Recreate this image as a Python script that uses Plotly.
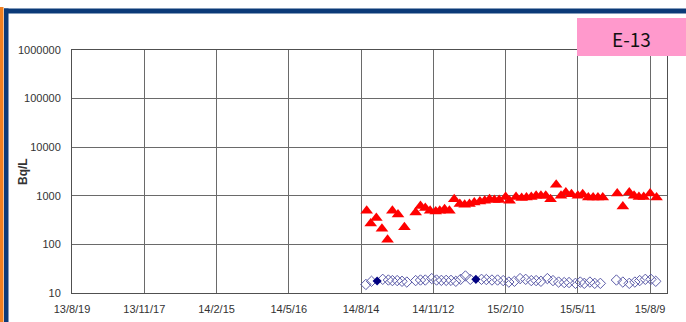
import plotly.graph_objects as go

# Sampling dates and activity (Bq/L) for the two series
red_dates = [
    "2014-08-21", "2014-08-26", "2014-09-02", "2014-09-09", "2014-09-16", "2014-09-22",
    "2014-09-29", "2014-10-07", "2014-10-21", "2014-10-27", "2014-11-02", "2014-11-08",
    "2014-11-15", "2014-11-20", "2014-11-26", "2014-12-02", "2014-12-08", "2014-12-15",
    "2014-12-21", "2014-12-27", "2015-01-02", "2015-01-09", "2015-01-15", "2015-01-21",
    "2015-01-27", "2015-02-02", "2015-02-10", "2015-02-15", "2015-02-23", "2015-03-02",
    "2015-03-08", "2015-03-14", "2015-03-20", "2015-03-26", "2015-04-01", "2015-04-07",
    "2015-04-14", "2015-04-20", "2015-04-26", "2015-05-03", "2015-05-11", "2015-05-17",
    "2015-05-24", "2015-05-30", "2015-06-05", "2015-06-11", "2015-06-29", "2015-07-06",
    "2015-07-14", "2015-07-20", "2015-07-26", "2015-08-01", "2015-08-09", "2015-08-17",
]
red_values = [
    490, 270, 350, 210, 125, 490,
    410, 225, 455, 620, 560, 490,
    475, 490, 530, 490, 850, 675,
    655, 675, 730, 760, 790, 850,
    815, 815, 950, 790, 950, 900,
    920, 950, 1000, 1000, 1000, 850,
    1680, 1000, 1170, 1080, 1000, 1080,
    920, 920, 920, 920, 1110, 600,
    1170, 1000, 950, 950, 1110, 920,
]

blue_dates = [
    "2014-08-20", "2014-08-27", "2014-09-10", "2014-09-17", "2014-09-22", "2014-09-28",
    "2014-10-04", "2014-10-10", "2014-10-21", "2014-10-27", "2014-11-02", "2014-11-10",
    "2014-11-16", "2014-11-22", "2014-11-28", "2014-12-04", "2014-12-10", "2014-12-16",
    "2014-12-22", "2014-12-28", "2015-01-11", "2015-01-17", "2015-01-24", "2015-01-31",
    "2015-02-07", "2015-02-14", "2015-02-21", "2015-02-28", "2015-03-07", "2015-03-14",
    "2015-03-20", "2015-03-26", "2015-04-03", "2015-04-10", "2015-04-17", "2015-04-24",
    "2015-04-30", "2015-05-08", "2015-05-14", "2015-05-19", "2015-05-26", "2015-06-01",
    "2015-06-08", "2015-06-28", "2015-07-06", "2015-07-14", "2015-07-21", "2015-07-27",
    "2015-08-03", "2015-08-10", "2015-08-16",
]
blue_values = [
    15.0, 17.4, 19.1, 18.5, 18.0, 18.0,
    17.4, 16.8, 18.0, 18.5, 18.5, 19.8,
    18.5, 18.2, 18.2, 18.2, 17.4, 19.1,
    22.4, 19.1, 19.1, 18.9, 18.5, 18.5,
    18.0, 16.8, 17.4, 19.8, 19.1, 18.0,
    18.0, 17.4, 19.8, 18.0, 16.8, 16.4,
    16.4, 15.8, 16.8, 15.8, 16.8, 15.8,
    15.8, 18.5, 16.8, 15.8, 16.8, 18.0,
    19.1, 19.1, 17.4,
]

detected_dates = ["2014-09-03", "2015-01-04"]
detected_values = [17.7, 19.1]

y_tick_vals = [10, 100, 1000, 10000, 100000, 1000000]
y_tick_text = ["10", "100", "1000", "10000", "100000", "1000000"]

station_label = "E-13"
y_title = "Bq/L"

W, H = 686, 322
L, R, T, B = 72, 667, 50, 293


def px_x(p):
    return (p - L) / (R - L)


def px_y(p):
    return (B - p) / (B - T)


fig = go.Figure()

fig.add_trace(go.Scatter(
    x=blue_dates, y=blue_values, mode="markers",
    marker=dict(symbol="diamond-open", size=8, color="#5b5ba8",
                line=dict(width=1, color="#5b5ba8")),
    showlegend=False, cliponaxis=False,
))
fig.add_trace(go.Scatter(
    x=detected_dates, y=detected_values, mode="markers",
    marker=dict(symbol="diamond", size=7, color="#000080"),
    showlegend=False, cliponaxis=False,
))
fig.add_trace(go.Scatter(
    x=red_dates, y=red_values, mode="markers",
    marker=dict(symbol="triangle-up", size=11, color="#ff0000"),
    showlegend=False, cliponaxis=False,
))

tick_font = dict(family="Liberation Sans, Arial, sans-serif", size=11, color="#333333")

fig.update_xaxes(
    type="date",
    range=["2013-08-19", "2015-08-30"],
    tick0="2013-08-19",
    dtick=90 * 86400000,
    tickformat="%y/%-m/%-d",
    showgrid=True, gridcolor="#6a6a6a", gridwidth=1,
    showline=True, linecolor="#505050", linewidth=1, mirror=True,
    ticks="", ticklabelstandoff=6, tickfont=tick_font, zeroline=False,
    automargin=False,
)
fig.update_yaxes(
    type="log",
    range=[1, 6],
    tickvals=y_tick_vals, ticktext=y_tick_text,
    showgrid=True, gridcolor="#6a6a6a", gridwidth=1,
    showline=True, linecolor="#505050", linewidth=1, mirror=True,
    ticks="", ticklabelstandoff=8, tickfont=tick_font, zeroline=False,
    automargin=False,
)

shapes = [
    # orange strip at the far left
    dict(type="rect", xref="paper", yref="paper",
         x0=px_x(0), x1=px_x(3.5), y0=px_y(W), y1=px_y(7),
         fillcolor="#f08020", line=dict(width=0), layer="above"),
    # navy frame: left and top
    dict(type="rect", xref="paper", yref="paper",
         x0=px_x(4), x1=px_x(8.5), y0=px_y(W), y1=px_y(8.5),
         fillcolor="#0b3a78", line=dict(width=0), layer="above"),
    dict(type="rect", xref="paper", yref="paper",
         x0=px_x(4), x1=px_x(W + 5), y0=px_y(13.5), y1=px_y(8.5),
         fillcolor="#0b3a78", line=dict(width=0), layer="above"),
    # label box
    dict(type="rect", xref="paper", yref="paper",
         x0=px_x(577), x1=px_x(W + 5), y0=px_y(56), y1=px_y(18),
         fillcolor="#ff99cc", line=dict(width=0), layer="above"),
]

annotations = [
    dict(text=station_label, xref="paper", yref="paper",
         x=px_x(631), y=px_y(38), xanchor="center", yanchor="middle",
         showarrow=False,
         font=dict(family="Noto Sans CJK JP, sans-serif", size=19, color="#111111")),
    dict(text="<b>" + y_title + "</b>", xref="paper", yref="paper",
         x=px_x(23), y=px_y(172), xanchor="center", yanchor="middle",
         textangle=-90, showarrow=False,
         font=dict(family="Liberation Sans, Arial, sans-serif", size=12, color="#333333")),
]

fig.update_layout(
    width=W, height=H,
    margin=dict(l=L, r=W - R, t=T, b=H - B, pad=0, autoexpand=False),
    paper_bgcolor="white", plot_bgcolor="white",
    shapes=shapes, annotations=annotations,
    showlegend=False,
)

fig.write_html("out.html")
